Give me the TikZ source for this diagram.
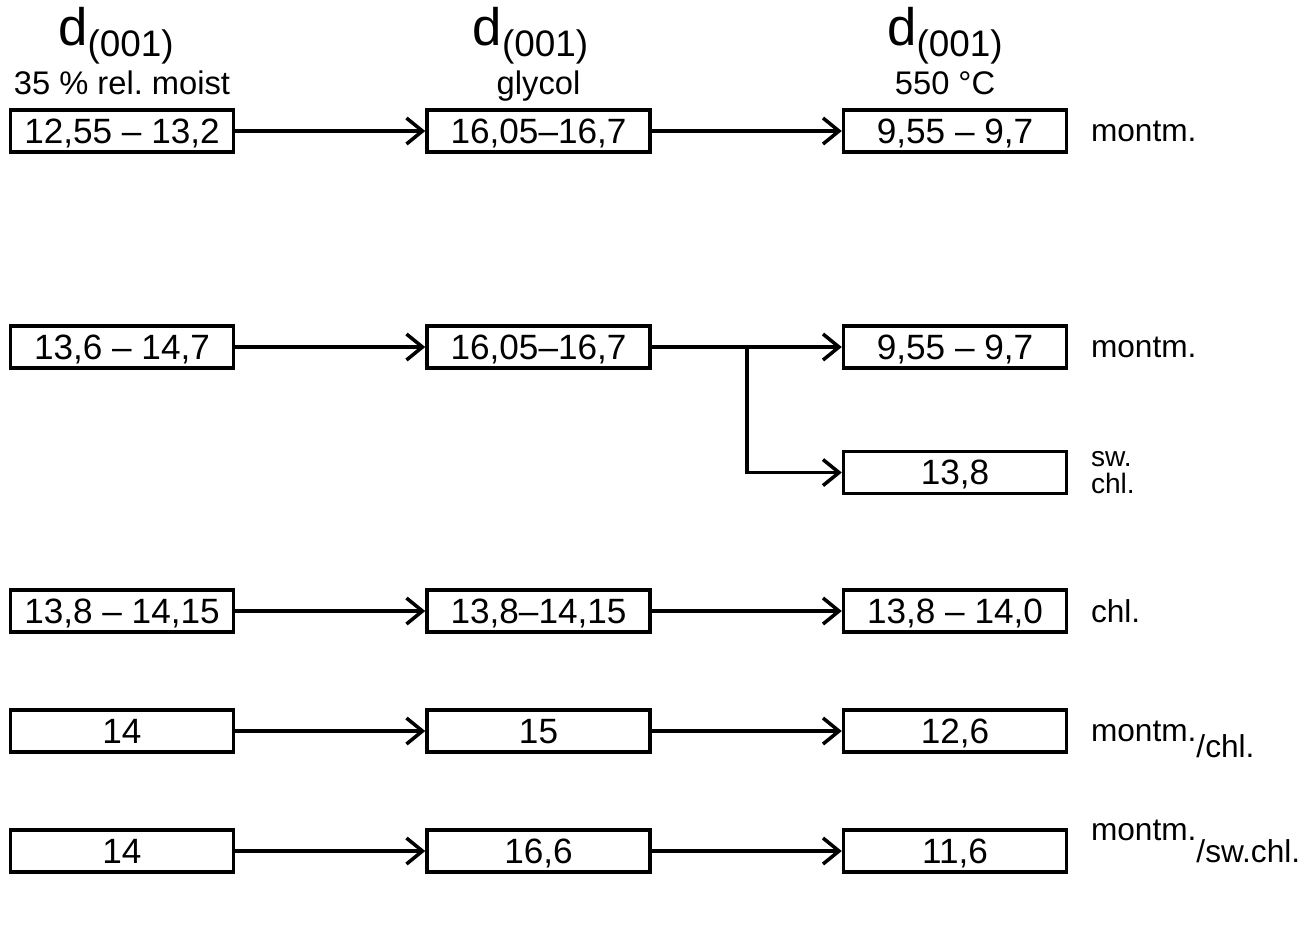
\documentclass[tikz,border=0pt]{standalone}
\usepackage{fontspec}
\setmainfont{Liberation Sans}
\usetikzlibrary{arrows.meta, positioning, calc}
\newcommand{\dhead}{{\fontsize{15}{17}\selectfont d}\raisebox{-0.6ex}{\fontsize{10.5}{12}\selectfont (001)}}

\begin{document}
\begin{tikzpicture}[
    node distance=0.8cm and 1.9cm,
    every node/.style={font=\fontsize{10}{12}\selectfont},
    val/.style={draw, line width=1pt, minimum width=2.23cm, minimum height=0.42cm,
                inner sep=0pt, text height=1.55ex, text depth=0.25ex},
    cond/.style={font=\fontsize{9.3}{11}\selectfont, inner sep=0pt, text height=7pt, text depth=2pt},
    head/.style={inner sep=0pt, text height=11pt, text depth=3pt},
    mineral/.style={align=left, inner sep=0pt, font=\fontsize{9}{10}\selectfont},
    arr/.style={-{Straight Barb[length=1.6mm, width=2.6mm]}, line width=1pt}
]
\useasboundingbox (0,0) rectangle (13.09,-9.31);

\node[val] (m1) at (1.22,-1.31) {12,55 -- 13,2};
\node[val, right=of m1] (g1) {16,05--16,7};
\node[val, right=of g1] (h1) {9,55 -- 9,7};

\node[cond] (c1) at (m1 |- 0,-0.86) {35 \% rel.\ moist};
\node[cond] (c2) at (g1 |- 0,-0.86) {glycol};
\node[cond] (c3) at ([xshift=-0.1cm]h1 |- 0,-0.86) {550 °C};
\node[head] (d1) at ([xshift=-0.06cm]m1 |- 0,-0.31) {\dhead};
\node[head] (d2) at ([xshift=-0.08cm]g1 |- 0,-0.31) {\dhead};
\node[head] (d3) at ([xshift=-0.1cm]h1 |- 0,-0.31) {\dhead};

\node[val] (m2) at (1.22,-3.47) {13,6 -- 14,7};
\node[val, right=of m2] (g2) {16,05--16,7};
\node[val, right=of g2] (h2) {9,55 -- 9,7};
\node[val, below=of h2] (h3) {13,8};

\node[val] (m4) at (1.22,-6.11) {13,8 -- 14,15};
\node[val, right=of m4] (g4) {13,8--14,15};
\node[val, right=of g4] (h4) {13,8 -- 14,0};

\node[val] (m5) at (1.22,-7.31) {14};
\node[val, right=of m5] (g5) {15};
\node[val, right=of g5] (h5) {12,6};

\node[val] (m6) at (1.22,-8.51) {14};
\node[val, right=of m6] (g6) {16,6};
\node[val, right=of g6] (h6) {11,6};

% mineral names
\node[mineral, right=0.22cm of h1] (l1) {montm.};
\node[mineral, right=0.22cm of h2] (l2) {montm.};
\node[mineral, right=0.22cm of h3, font=\fontsize{8}{7.5}\selectfont] (l3) {sw.\\chl.};
\node[mineral, right=0.22cm of h4] (l4) {chl.};
\node[mineral, right=0.22cm of h5] (l5) {montm.\smash{\raisebox{-1ex}{/chl.}}};
\node[mineral, right=0.22cm of h6] (l6) {\smash{\raisebox{1.3ex}{montm.}}/sw.chl.};

\coordinate (split) at ($(g2.east)!0.5!(h2.west)$);

\draw[arr] (m1) -- (g1);
\draw[arr] (g1) -- (h1);
\draw[arr] (m2) -- (g2);
\draw[arr] (g2) -- (h2);
\draw[arr] (split) |- (h3.west);
\draw[arr] (m4) -- (g4);
\draw[arr] (g4) -- (h4);
\draw[arr] (m5) -- (g5);
\draw[arr] (g5) -- (h5);
\draw[arr] (m6) -- (g6);
\draw[arr] (g6) -- (h6);
\end{tikzpicture}
\end{document}
